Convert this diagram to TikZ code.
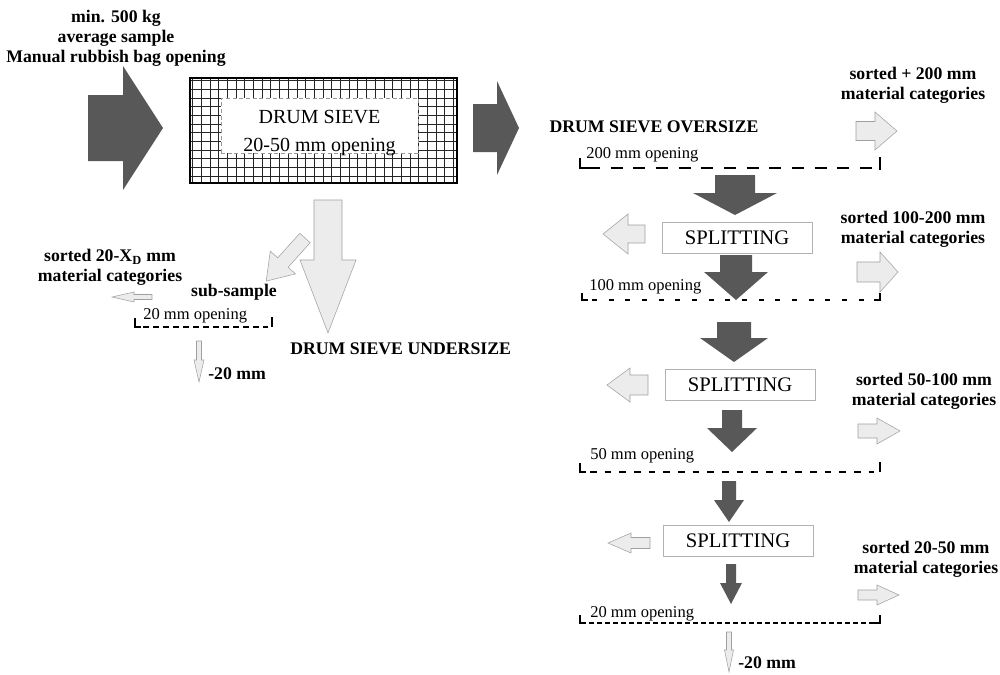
\documentclass[tikz,border=0pt]{standalone}
\usepackage{fontspec}
\setmainfont{Liberation Serif}
\usetikzlibrary{positioning}

\definecolor{arrowdark}{RGB}{88,88,88}
\definecolor{arrowlight}{RGB}{236,236,236}
\definecolor{arrowedge}{RGB}{160,160,160}

% block arrow: style, tail x, tail y, angle, length, shaft half width, head half width, head length
\newcommand{\blockarrow}[8]{%
  \draw[#1, shift={(#2,#3)}, rotate=#4]
    (0,-#6) -- ({#5-#8},-#6) -- ({#5-#8},-#7) -- (#5,0)
    -- ({#5-#8},#7) -- ({#5-#8},#6) -- (0,#6) -- cycle;}

\begin{document}
\begin{tikzpicture}[
    x=0.75pt, y=-0.75pt,
    lbl/.style={font=\fontsize{13.3}{15}\selectfont\bfseries, align=center, inner sep=0pt},
    openlbl/.style={font=\fontsize{12.4}{14}\selectfont, anchor=west, inner sep=0pt},
    splitbox/.style={draw=black!30, fill=white, minimum width=112.5pt, minimum height=23.25pt, inner sep=0pt, font=\fontsize{15.5}{18}\selectfont},
    sievebox/.style={draw=black!40, densely dashed, fill=white, minimum width=147.75pt, minimum height=41.25pt, inner sep=0pt},
    sievetext/.style={align=center, inner sep=0pt, font=\fontsize{15}{21.5}\selectfont},
    dark/.style={fill=arrowdark, draw=none},
    light/.style={fill=arrowlight, draw=arrowedge, line width=0.4pt},
    screen/.style={line width=1.5pt},
    gridline/.style={line width=0.6pt, black!85},
]
  \useasboundingbox (0,0) rectangle (1000,675);

  % input and drum sieve
  \node[lbl] (input) at (116,38) {min. 500 kg\\average sample\\Manual rubbish bag opening};
  \blockarrow{dark}{88}{128}{0}{75}{33}{62}{40}
  \begin{scope}
    \clip (190,78) rectangle (457,183);
    \foreach \gx in {192.5,201.2,...,457} \draw[gridline] (\gx,78) -- (\gx,183);
    \foreach \gy in {80.5,89.2,...,183} \draw[gridline] (190,\gy) -- (457,\gy);
  \end{scope}
  \draw[line width=2pt] (190,78) rectangle (457,183);
  \node[sievebox] (sieve) at (319.5,125.5) {};
  \node[sievetext] (sievelbl) at (319.5,133) {DRUM SIEVE\\20-50 mm opening};
  \blockarrow{dark}{473}{128}{0}{46}{24}{47}{22}

  % oversize line (right column)
  \node[lbl] (over) at (654,127) {DRUM SIEVE OVERSIZE};
  \node[lbl] (sort200) at (913,85) {sorted + 200 mm\\material categories};
  \blockarrow{light}{856}{131}{0}{41}{9.5}{19}{22}
  \node[openlbl] (op200) at (586,155) {200 mm opening};
  \draw[screen, dash pattern=on 9pt off 8pt] (588,168) -- (874,168);
  \draw[screen] (580,158) -- (580,168) -- (588,168);
  \draw[screen] (880,157) -- (880,170);
  \blockarrow{dark}{735}{175}{-90}{40}{20}{42}{22}

  \node[splitbox] (split1) at (737,238) {SPLITTING};
  \blockarrow{light}{645}{234}{180}{42}{9}{20}{25}
  \node[lbl] (sort100) at (913,229) {sorted 100-200 mm\\material categories};
  \blockarrow{light}{857}{272}{0}{41}{10}{20}{18}
  \blockarrow{dark}{736}{255}{-90}{45}{16}{32}{28}
  \node[openlbl] (op100) at (589,287) {100 mm opening};
  \draw[screen, dash pattern=on 3.75pt off 8.75pt] (592,300) -- (872,300);
  \draw[screen] (582,293) -- (582,300) -- (588,300);
  \draw[screen] (874,300) -- (880,300) -- (880,293);
  \blockarrow{dark}{734}{322}{-90}{40}{17}{34}{24}

  \node[splitbox] (split2) at (740,385) {SPLITTING};
  \blockarrow{light}{648}{385}{180}{41}{10}{17}{23}
  \node[lbl] (sort50) at (924,391) {sorted 50-100 mm\\material categories};
  \blockarrow{light}{858}{431}{0}{42}{7}{13}{23}
  \blockarrow{dark}{732}{410}{-90}{42}{10}{25}{24}
  \node[openlbl] (op50) at (590,456) {50 mm opening};
  \draw[screen, dash pattern=on 5pt off 6pt] (590,472) -- (874,472);
  \draw[screen] (580,463) -- (580,472) -- (586,472);
  \draw[screen] (880,462) -- (880,472);
  \blockarrow{dark}{729}{481}{-90}{41}{7}{15}{22}

  \node[splitbox] (split3) at (738,541) {SPLITTING};
  \blockarrow{light}{650}{543}{180}{42}{5.5}{10}{23}
  \node[lbl] (sort20) at (926,559) {sorted 20-50 mm\\material categories};
  \blockarrow{light}{858}{595}{0}{41}{5}{10}{22}
  \blockarrow{dark}{731}{564}{-90}{40}{5}{11}{21}
  \node[openlbl] (op20) at (590,614) {20 mm opening};
  \draw[screen, dash pattern=on 3.75pt off 2.25pt] (589,623) -- (874,623);
  \draw[screen] (580,615) -- (580,623) -- (586,623);
  \draw[screen] (874,623) -- (880,623) -- (880,615);
  \blockarrow{light}{729}{632}{-90}{40}{2.5}{4.5}{22}
  \node[lbl, anchor=west] (fine2) at (738,663) {-20 mm};

  % undersize line (left column)
  \blockarrow{light}{328}{200}{-90}{133}{14}{28}{73}
  \node[lbl, anchor=west] (under) at (290,349) {DRUM SIEVE UNDERSIZE};
  \blockarrow{light}{305}{238}{-132}{58}{7}{17}{25}
  \node[lbl] (sub) at (234,292) {sub-sample};
  \node[lbl] (sortxd) at (110,267) {sorted 20-X\textsubscript{D} mm\\material categories};
  \blockarrow{light}{152}{297}{180}{40}{2.5}{5}{22}
  \node[openlbl] (opsub) at (143,316) {20 mm opening};
  \draw[screen, dash pattern=on 4.5pt off 3pt] (143,327) -- (268,327);
  \draw[screen] (135,318) -- (135,327) -- (141,327);
  \draw[screen] (272,317) -- (272,327);
  \blockarrow{light}{199}{341}{-90}{41}{2.5}{5}{22}
  \node[lbl, anchor=west] (fine1) at (208,374) {-20 mm};
\end{tikzpicture}
\end{document}
